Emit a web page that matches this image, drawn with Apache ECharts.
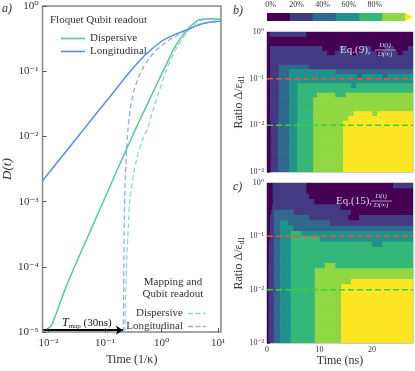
<!DOCTYPE html>
<html>
<head>
<meta charset="utf-8">
<script src="https://cdn.jsdelivr.net/npm/echarts@6/dist/echarts.min.js"></script>
<style>
html,body{margin:0;padding:0;background:#fff;}
#main{width:415px;height:371px;}
</style>
</head>
<body>
<div id="main"></div>
<script>
//---------------------------------------------
//  panel a) D(t), time in 1/kappa
//---------------------------------------------
var dispT = [0.00851, 0.01122, 0.01995, 0.0339, 0.0631, 0.1259, 0.2138, 0.3499, 0.5623, 0.8511, 1.175, 1.622, 2.138, 2.858, 3.548, 4.266, 5.623, 7.079, 11.22];
var dispD = [1.07e-5, 1.26e-5, 4.68e-5, 1.38e-4, 4.68e-4, 1.82e-3, 5.13e-3, 1.32e-2, 3.16e-2, 6.76e-2, 0.120, 0.214, 0.316, 0.432, 0.525, 0.596, 0.631, 0.638, 0.624];
var longT = [0.00785, 0.01995, 0.0501, 0.1122, 0.2512, 0.5012, 1, 1.585, 2.858, 5.012, 7.943, 11.22];
var longD = [2.09e-3, 5.74e-3, 1.56e-2, 3.72e-2, 8.91e-2, 0.174, 0.288, 0.355, 0.437, 0.531, 0.575, 0.582];
var dispMapT = [0.2239, 0.2333, 0.2432, 0.2570, 0.2754, 0.3162, 0.3631, 0.4645, 0.5675, 0.6918, 0.8511, 1.274, 1.905, 2.858, 4.266, 5.888, 7.943, 11.22];
var dispMapD = [1e-5, 4.79e-5, 1.38e-4, 3.98e-4, 1.12e-3, 2.51e-3, 4.57e-3, 9.12e-3, 1.32e-2, 2.40e-2, 4.17e-2, 0.1175, 0.240, 0.403, 0.550, 0.631, 0.635, 0.624];
var longMapT = [0.2113, 0.2148, 0.2188, 0.2265, 0.2371, 0.2535, 0.2818, 0.3236, 0.3981, 0.4831, 0.6310, 0.8511, 1.175, 1.622, 2.858, 5.012, 7.943, 11.22];
var longMapD = [1e-5, 1e-4, 5.01e-4, 2.0e-3, 5.01e-3, 1.26e-2, 2.82e-2, 5.01e-2, 8.32e-2, 0.1175, 0.166, 0.219, 0.275, 0.331, 0.432, 0.527, 0.573, 0.581];
var tmapArrowT = [0.0081, 0.207];   // T_map arrow, start / end
var tmapArrowD = 1.07e-5;
var timeDecades = [-2, -1, 0, 1];

//---------------------------------------------
//  panels b) c) level maps, time in ns vs ratio
//  each row: level, end time, level, end time ...
//---------------------------------------------
var timeMaxNs = 27.8;
var nsTicks = [0, 10, 20];
var ratioRows = [0, -0.1, -0.2, -0.3, -0.4, -0.5, -0.6, -0.7, -0.8, -0.9, -1.0, -1.1, -1.2, -1.3, -1.4, -1.5, -1.6, -1.7, -1.8, -1.9, -2.0, -2.1, -2.2, -2.3, -2.4, -2.5, -2.6, -2.7, -2.8, -2.9, -3.0];
var cutRatios = [-1, -2];
var eq9Rows = [
    [0,0.5, 1,7.5, 0,27.8],
    [0,27.8],
    [0,27.8],
    [0,0.6, 1,10.5, 0,13.8, 1,15.2, 0,18.2, 1,19.8, 0,22.6, 1,24.2, 0,26.8, 1,27.8],
    [0,0.6, 1,11.5, 0,13, 1,16, 0,17.5, 1,20.8, 0,21.8, 1,24.8, 0,25.8, 1,27.8],
    [0,0.6, 1,27.8],
    [0,0.6, 1,27.8],
    [0,0.6, 1,2.2, 2,8, 1,27.8],
    [0,0.6, 1,2.2, 2,4.2, 3,13, 2,27.8],
    [0,0.6, 1,2.2, 2,4.2, 3,17, 2,18, 3,22, 2,23, 3,27.8],
    [0,0.6, 1,2.2, 2,4.2, 3,27.8],
    [0,0.6, 1,2.2, 2,4.2, 3,5.8, 4,16, 3,17, 4,27.8],
    [0,0.6, 1,2.2, 2,4.2, 3,5.8, 4,27.8],
    [0,0.6, 1,2.2, 2,4.2, 3,5.8, 4,9.5, 5,13, 4,15, 5,27.8],
    [0,0.6, 1,2.2, 2,4.2, 3,5.8, 4,8.8, 5,27.8],
    [0,0.6, 1,2.2, 2,4.2, 3,5.8, 4,8.8, 5,27.8],
    [0,0.6, 1,2.2, 2,4.2, 3,5.8, 4,8.8, 5,27.8],
    [0,0.6, 1,2.2, 2,4.2, 3,5.8, 4,8.8, 5,16.5, 6,20, 5,21, 6,27.8],
    [0,0.6, 1,2.2, 2,4.2, 3,5.8, 4,8.8, 5,15.5, 6,27.8],
    [0,0.7, 1,2.1, 2,4.2, 3,5.7, 4,8.8, 5,14.5, 6,27.8],
    [0,0.7, 1,2.1, 2,4.2, 3,5.7, 4,8.8, 5,14.5, 6,27.8],
    [0,0.7, 1,2.1, 2,4.2, 3,5.7, 4,8.8, 5,14.5, 6,27.8],
    [0,0.7, 1,2.1, 2,4.2, 3,5.7, 4,8.8, 5,14.5, 6,27.8],
    [0,0.7, 1,2.1, 2,4.2, 3,5.7, 4,8.8, 5,14.5, 6,27.8],
    [0,0.7, 1,2.1, 2,4.2, 3,5.7, 4,8.8, 5,14.5, 6,27.8],
    [0,0.7, 1,2.1, 2,4.2, 3,5.7, 4,8.8, 5,14.5, 6,27.8],
    [0,0.7, 1,2.1, 2,4.2, 3,5.7, 4,8.8, 5,14.5, 6,27.8],
    [0,0.7, 1,2.1, 2,4.2, 3,5.7, 4,8.8, 5,14.5, 6,27.8],
    [0,0.7, 1,2.1, 2,4.2, 3,5.7, 4,8.8, 5,14.5, 6,27.8],
    [0,0.7, 1,2.1, 2,4.2, 3,5.7, 4,8.8, 5,14.5, 6,27.8]
];
var eq15Rows = [
    [0,1.1, 1,7.5, 0,24, 1,27.8],
    [0,1.1, 1,7.5, 0,27.8],
    [0,1.1, 1,8, 0,27.8],
    [0,1.1, 1,9, 0,27.8],
    [0,1.0, 1,14, 0,27.8],
    [0,0.8, 1,1.3, 2,5, 1,16, 0,27.8],
    [0,0.6, 1,1.3, 2,8, 1,15.5, 0,17.5, 1,27.8],
    [0,0.6, 1,1.3, 2,2.5, 3,4, 2,12, 1,27.8],
    [0,0.6, 1,1.3, 2,2.5, 3,5, 2,27.8],
    [0,0.5, 1,1.3, 2,2.5, 3,4.5, 4,6.5, 3,27.8],
    [0,0.5, 1,1.3, 2,2.5, 3,4.5, 4,10, 3,27.8],
    [0,0.4, 1,1.3, 2,2.5, 3,4.5, 4,20, 3,22, 4,27.8],
    [0,0.4, 1,1.3, 2,2.5, 3,4.5, 4,27.8],
    [0,0.4, 1,1.3, 2,2.5, 3,4.5, 4,27.8],
    [0,0.4, 1,1.3, 2,2.5, 3,4.5, 4,27.8],
    [0,0.3, 1,1.3, 2,2.5, 3,4.5, 4,11, 5,13, 4,27.8],
    [0,0.3, 1,1.3, 2,2.5, 3,4.5, 4,9.1, 5,27.8],
    [0,0.3, 1,1.3, 2,2.5, 3,4.5, 4,9.1, 5,27.8],
    [0,0.3, 1,1.3, 2,2.5, 3,4.5, 4,9.1, 5,16, 6,27.8],
    [0,0.3, 1,1.3, 2,2.5, 3,4.5, 4,9.1, 5,14.1, 6,27.8],
    [0,0.3, 1,1.3, 2,2.5, 3,4.5, 4,9.1, 5,14.1, 6,27.8],
    [0,0.3, 1,1.3, 2,2.5, 3,4.5, 4,9.1, 5,14.1, 6,27.8],
    [0,0.3, 1,1.3, 2,2.5, 3,4.5, 4,9.1, 5,14.1, 6,27.8],
    [0,0.3, 1,1.3, 2,2.5, 3,4.5, 4,9.1, 5,14.1, 6,27.8],
    [0,0.3, 1,1.3, 2,2.5, 3,4.5, 4,9.1, 5,14.1, 6,27.8],
    [0,0.3, 1,1.3, 2,2.5, 3,4.5, 4,9.1, 5,14.1, 6,27.8],
    [0,0.3, 1,1.3, 2,2.5, 3,4.5, 4,9.1, 5,14.1, 6,27.8],
    [0,0.3, 1,1.3, 2,2.5, 3,4.5, 4,9.1, 5,14.1, 6,27.8],
    [0,0.3, 1,1.3, 2,2.5, 3,4.5, 4,9.1, 5,14.1, 6,27.8],
    [0,0.3, 1,1.3, 2,2.5, 3,4.5, 4,9.1, 5,14.1, 6,27.8]
];
var levelColors = ['#440154', '#443983', '#31688e', '#21918c', '#35b779', '#90d743', '#fde725'];
var cbEdges = [-2.8, 14.8, 32.3, 50.2, 68.2, 85.9, 103.3];
var cbTip = 109.4;
var cbTicks = [0, 20, 40, 60, 80];

var SERIF = "'Liberation Serif','DejaVu Serif',serif";
var SUP = {'-': '\u207b', '0': '\u2070', '1': '\u00b9', '2': '\u00b2', '3': '\u00b3', '4': '\u2074', '5': '\u2075'};
var SOLID_ICON = 'path://M0,0h24v1.6h-24z';
var DASH_ICON = 'path://M0,0h5v1.5h-5z M7.5,0h5v1.5h-5z M15,0h3v1.5h-3z';

function pow10(v){
    var s = String(Math.round(v));
    return '10' + s.split('').map(function(c){ return SUP[c]; }).join('');
}

function logPairs(ts, ds){
    return ts.map(function(t, i){ return [Math.log10(t), Math.log10(ds[i])]; });
}

function cellData(rows){
    var out = [];
    rows.forEach(function(r, i){
        var t0 = 0;
        for (var k = 0; k < r.length; k += 2){
            out.push([t0, r[k + 1], ratioRows[i + 1], ratioRows[i], r[k]]);
            t0 = r[k + 1];
        }
    });
    return out;
}

function renderCell(params, api){
    var a = api.coord([api.value(0), api.value(3)]);
    var b = api.coord([api.value(1), api.value(2)]);
    return {
        type: 'rect',
        shape: {x: a[0], y: a[1], width: b[0] - a[0] + 0.6, height: b[1] - a[1] + 0.6},
        style: {fill: levelColors[api.value(4)]}
    };
}

function renderBar(params, api){
    var lvl = api.value(2);
    if (lvl < 6){
        var a = api.coord([api.value(0), 1]);
        var b = api.coord([api.value(1), 0]);
        return {type: 'rect', shape: {x: a[0], y: a[1], width: b[0] - a[0] + 0.5, height: b[1] - a[1]},
            style: {fill: levelColors[lvl]}};
    }
    var p0 = api.coord([api.value(0), 1]), p1 = api.coord([api.value(0), 0]), p2 = api.coord([api.value(1), 0.5]);
    return {type: 'polygon', shape: {points: [p0, p1, p2]}, style: {fill: levelColors[lvl]}};
}

function cbData(){
    var out = [];
    for (var k = 0; k < cbEdges.length - 1; k++) out.push([cbEdges[k], cbEdges[k + 1], k]);
    out.push([cbEdges[cbEdges.length - 1], cbTip, 6]);
    return out;
}

function cutLine(idx, r, color){
    return {
        type: 'line', xAxisIndex: idx, yAxisIndex: idx, symbol: 'none', silent: true, z: 5,
        data: [[0, r], [timeMaxNs, r]],
        lineStyle: {color: color, width: 1.5, type: [6, 3]}
    };
}

function smallAxisY(idx){
    return {
        gridIndex: idx, type: 'value', min: -3, max: 0, interval: 1,
        splitLine: {show: false}, axisLine: {show: false, onZero: false},
        axisTick: {inside: true, length: 3, lineStyle: {color: '#555'}},
        axisLabel: {formatter: pow10, fontSize: 8, fontFamily: SERIF, color: '#333', margin: 3},
        name: '{r|Ratio \u0394/\u03b5}{s|d1}', nameLocation: 'middle', nameGap: 19, nameRotate: 90,
        nameTextStyle: {rich: {r: {fontSize: 12, fontFamily: SERIF, color: '#333', lineHeight: 14},
            s: {fontSize: 8, fontFamily: SERIF, color: '#333', lineHeight: 8, verticalAlign: 'bottom'}}}
    };
}

function smallAxisX(idx, showLabels){
    return {
        gridIndex: idx, type: 'value', min: 0, max: timeMaxNs,
        splitLine: {show: false}, axisLine: {show: false, onZero: false},
        axisTick: {inside: true, length: 3, customValues: nsTicks, lineStyle: {color: '#555'}},
        axisLabel: {show: showLabels, customValues: nsTicks, fontSize: 8, fontFamily: SERIF, color: '#333', margin: 3},
        name: showLabels ? 'Time (ns)' : '', nameLocation: 'middle', nameGap: 12,
        nameTextStyle: {fontSize: 12, fontFamily: SERIF, color: '#333'}
    };
}

function eqLabel(x, y, txt){
    var c = '#ddd8f0';
    return {type: 'group', z: 100, children: [
        {type: 'text', z: 100, x: x, y: y, style: {text: txt, font: '11px ' + SERIF, fill: c, verticalAlign: 'middle'}},
        {type: 'text', z: 100, x: x + 45, y: y - 4.5, style: {text: 'D(t)', font: 'italic 7px ' + SERIF, fill: c, align: 'center', verticalAlign: 'middle'}},
        {type: 'line', z: 100, shape: {x1: x + 35, y1: y, x2: x + 56, y2: y}, style: {stroke: c, lineWidth: 0.7}},
        {type: 'text', z: 100, x: x + 45, y: y + 4.5, style: {text: 'D(\u221e)', font: 'italic 7px ' + SERIF, fill: c, align: 'center', verticalAlign: 'middle'}}
    ]};
}

function drawFigure(){
    var myChart = echarts.init(document.getElementById('main'));
    var legendText = {fontSize: 11, fontFamily: SERIF, color: '#333'};

    var option = {
        animation: false,
        backgroundColor: '#fff',
        grid: [
            {left: 41, top: 6, width: 180, height: 329, show: true, borderColor: '#888', borderWidth: 1.5},
            {left: 267, top: 32, width: 146, height: 140, show: true, borderColor: '#999', borderWidth: 1},
            {left: 267, top: 183, width: 146, height: 160, show: true, borderColor: '#999', borderWidth: 1},
            {left: 267, top: 13, width: 146, height: 8}
        ],
        xAxis: [
            {
                gridIndex: 0, type: 'value', min: -2.105, max: 1.05,
                splitLine: {show: false}, axisLine: {show: false, onZero: false},
                axisTick: {inside: true, length: 4, customValues: timeDecades, lineStyle: {color: '#555'}},
                axisLabel: {customValues: timeDecades, formatter: pow10, fontSize: 11, fontFamily: SERIF, color: '#333', margin: 6},
                name: 'Time (1/\u03ba)', nameLocation: 'middle', nameGap: 20,
                nameTextStyle: {fontSize: 12, fontFamily: SERIF, color: '#333'}
            },
            smallAxisX(1, false),
            smallAxisX(2, true),
            {
                gridIndex: 3, type: 'value', min: cbEdges[0], max: cbTip, position: 'top',
                splitLine: {show: false}, axisLine: {show: false, onZero: false},
                axisTick: {show: false},
                axisLabel: {customValues: cbTicks, formatter: '{value}%', fontSize: 8, fontFamily: SERIF, color: '#333', margin: 4}
            }
        ],
        yAxis: [
            {
                gridIndex: 0, type: 'value', min: -5, max: 0, interval: 1,
                splitLine: {show: false}, axisLine: {show: false, onZero: false},
                axisTick: {inside: true, length: 4, lineStyle: {color: '#555'}},
                axisLabel: {formatter: pow10, fontSize: 11, fontFamily: SERIF, color: '#333', margin: 4},
                name: 'D(t)', nameLocation: 'middle', nameGap: 24, nameRotate: 90,
                nameTextStyle: {fontSize: 13, fontStyle: 'italic', fontFamily: SERIF, color: '#333'}
            },
            smallAxisY(1),
            smallAxisY(2),
            {gridIndex: 3, type: 'value', min: 0, max: 1, show: false}
        ],
        legend: [
            {
                left: 56, top: 28, orient: 'vertical', itemWidth: 24, itemHeight: 14, itemGap: 2,
                selectedMode: false, textStyle: legendText,
                data: [{name: 'Dispersive', icon: SOLID_ICON}, {name: 'Longitudinal', icon: SOLID_ICON}]
            },
            {
                right: 204, top: 303, orient: 'vertical', align: 'right', itemWidth: 18, itemHeight: 14, itemGap: 2,
                selectedMode: false, textStyle: legendText,
                data: [{name: 'Dispersive map', icon: DASH_ICON}, {name: 'Longitudinal map', icon: DASH_ICON}],
                formatter: function(n){ return n.replace(' map', ''); }
            }
        ],
        series: [
            {
                name: 'Dispersive', type: 'line', xAxisIndex: 0, yAxisIndex: 0, symbol: 'none', smooth: 0.2, z: 4,
                data: logPairs(dispT, dispD), lineStyle: {color: '#55c99c', width: 1.5}, itemStyle: {color: '#55c99c'},
                markLine: {
                    silent: true, symbol: ['none', 'arrow'], symbolSize: 7, label: {show: false},
                    lineStyle: {color: '#000', width: 2, type: 'solid'},
                    data: [[{coord: [Math.log10(tmapArrowT[0]), Math.log10(tmapArrowD)]}, {coord: [Math.log10(tmapArrowT[1]), Math.log10(tmapArrowD)]}]]
                }
            },
            {
                name: 'Longitudinal', type: 'line', xAxisIndex: 0, yAxisIndex: 0, symbol: 'none', smooth: 0.2, z: 4,
                data: logPairs(longT, longD), lineStyle: {color: '#5b8def', width: 1.5}, itemStyle: {color: '#5b8def'}
            },
            {
                name: 'Dispersive map', type: 'line', xAxisIndex: 0, yAxisIndex: 0, symbol: 'none', smooth: 0.2, z: 3,
                data: logPairs(dispMapT, dispMapD), lineStyle: {color: '#8fdcc0', width: 1.3, type: [5, 3]}, itemStyle: {color: '#8fdcc0'}
            },
            {
                name: 'Longitudinal map', type: 'line', xAxisIndex: 0, yAxisIndex: 0, symbol: 'none', smooth: 0.2, z: 3,
                data: logPairs(longMapT, longMapD), lineStyle: {color: '#8fb0f2', width: 1.3, type: [5, 3]}, itemStyle: {color: '#8fb0f2'}
            },
            {
                type: 'custom', xAxisIndex: 1, yAxisIndex: 1, renderItem: renderCell, clip: true, silent: true, z: 1,
                encode: {x: [0, 1], y: [2, 3]}, data: cellData(eq9Rows)
            },
            {
                type: 'custom', xAxisIndex: 2, yAxisIndex: 2, renderItem: renderCell, clip: true, silent: true, z: 1,
                encode: {x: [0, 1], y: [2, 3]}, data: cellData(eq15Rows)
            },
            cutLine(1, cutRatios[0], '#f0582a'),
            cutLine(1, cutRatios[1], '#3fcf3f'),
            cutLine(2, cutRatios[0], '#f0582a'),
            cutLine(2, cutRatios[1], '#3fcf3f'),
            {
                type: 'custom', xAxisIndex: 3, yAxisIndex: 3, renderItem: renderBar, silent: true,
                encode: {x: [0, 1]}, data: cbData()
            }
        ],
        graphic: [
            {type: 'text', left: 2, top: 3, style: {text: 'a)', font: 'italic 12px ' + SERIF, fill: '#333'}},
            {type: 'text', left: 233, top: 5, style: {text: 'b)', font: 'italic 12px ' + SERIF, fill: '#333'}},
            {type: 'text', left: 233, top: 181, style: {text: 'c)', font: 'italic 12px ' + SERIF, fill: '#333'}},
            {type: 'text', x: 50, y: 20, style: {text: 'Floquet Qubit readout', font: '11px ' + SERIF, fill: '#333', verticalAlign: 'middle'}},
            {type: 'text', x: 173, y: 282, style: {text: 'Mapping and', font: '11px ' + SERIF, fill: '#333', align: 'center', verticalAlign: 'middle'}},
            {type: 'text', x: 173, y: 294, style: {text: 'Qubit readout', font: '11px ' + SERIF, fill: '#333', align: 'center', verticalAlign: 'middle'}},
            {type: 'text', x: 62, y: 323, style: {
                text: '{i|T}{s|map} (30ns)', verticalAlign: 'middle',
                rich: {
                    i: {fontSize: 12, fontStyle: 'italic', fontFamily: SERIF, fill: '#111', lineHeight: 14},
                    s: {fontSize: 7, fontFamily: SERIF, fill: '#111', lineHeight: 8, verticalAlign: 'bottom'}
                },
                font: '11px ' + SERIF, fill: '#111'
            }},
            eqLabel(340, 50, 'Eq.(9),'),
            eqLabel(336, 201, 'Eq.(15),')
        ]
    };

    myChart.setOption(option);
}

drawFigure();
</script>
</body>
</html>
